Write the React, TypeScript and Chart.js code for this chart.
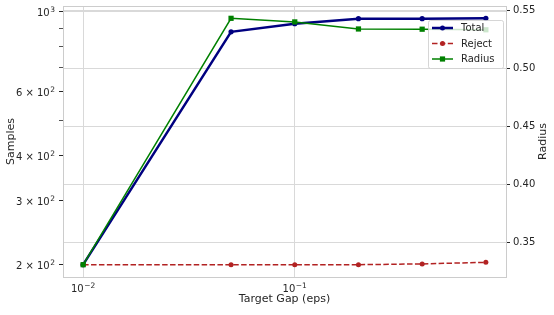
import React, { useEffect, useRef } from 'react';
import { Chart, registerables } from 'chart.js';

Chart.register(...registerables);

// ---- data ----
const gaps = [0.01, 0.05, 0.1, 0.2, 0.4, 0.8];
const totalSamples = [200, 879, 926, 956, 956, 958];
const rejectSamples = [200, 200, 200, 200, 201, 203];
const radiusValues = [0.3308, 0.5434, 0.5403, 0.5342, 0.534, 0.5335];

const xTickValues = [0.01, 0.1];
// [base, superscript]
const xTickLabels: [string, string][] = [['10', '−2'], ['10', '−1']];
const yTickValues = [200, 300, 400, 500, 600, 700, 800, 900, 1000];
const yTickLabels: [string, string][] = [
  ['2 × 10', '2'], ['3 × 10', '2'], ['4 × 10', '2'], ['', ''], ['6 × 10', '2'], ['', ''], ['', ''], ['', ''], ['10', '3'],
];
const rTickValues = [0.35, 0.4, 0.45, 0.5, 0.55];
const rTickLabels = ['0.35', '0.40', '0.45', '0.50', '0.55'];
const seriesNames = ['Total', 'Reject', 'Radius'];

const FONT = '"DejaVu Sans", Verdana, sans-serif';
const TEXT = '#262626';
const GRID = '#d9d9d9';
const SPINE = '#cccccc';
const C_TOTAL = '#000080';
const C_REJECT = '#b22222';
const C_RADIUS = '#008000';

function logLimits(vals: number[]): [number, number] {
  const lo = Math.log10(Math.min(...vals));
  const hi = Math.log10(Math.max(...vals));
  const m = (hi - lo) * 0.05;
  return [Math.pow(10, lo - m), Math.pow(10, hi + m)];
}
function linLimits(vals: number[]): [number, number] {
  const lo = Math.min(...vals);
  const hi = Math.max(...vals);
  const m = (hi - lo) * 0.05;
  return [lo - m, hi + m];
}

function drawSupLabel(ctx: CanvasRenderingContext2D, base: string, sup: string, x: number, baseline: number, align: 'center' | 'right') {
  if (!base) return;
  ctx.font = `10px ${FONT}`;
  const wb = ctx.measureText(base).width;
  ctx.font = `7.5px ${FONT}`;
  const ws = ctx.measureText(sup).width;
  const total = wb + 0.5 + ws;
  const x0 = align === 'center' ? x - total / 2 : x - total;
  ctx.textAlign = 'left';
  ctx.textBaseline = 'alphabetic';
  ctx.fillStyle = TEXT;
  ctx.font = `10px ${FONT}`;
  ctx.fillText(base, x0, baseline);
  ctx.font = `7.5px ${FONT}`;
  ctx.fillText(sup, x0 + wb + 0.5, baseline - 3.6);
}

const decoPlugin = {
  id: 'deco',
  beforeDatasetsDraw(chart: any) {
    const { ctx, chartArea: a } = chart;
    ctx.save();
    ctx.strokeStyle = SPINE;
    ctx.lineWidth = 1;
    ctx.strokeRect(Math.round(a.left) + 0.5, Math.round(a.top) + 0.5, Math.round(a.right - a.left), Math.round(a.bottom - a.top));
    ctx.restore();
  },
  afterDraw(chart: any) {
    const { ctx, chartArea: a } = chart;
    const xs = chart.scales.x;
    const ys = chart.scales.y;
    ctx.save();
    // tick labels with superscripts
    xTickValues.forEach((v, i) => {
      const px = xs.getPixelForValue(v);
      drawSupLabel(ctx, xTickLabels[i][0], xTickLabels[i][1], px, a.bottom + 15, 'center');
    });
    yTickValues.forEach((v, i) => {
      const py = ys.getPixelForValue(v);
      drawSupLabel(ctx, yTickLabels[i][0], yTickLabels[i][1], a.left - 8, py + 4, 'right');
    });

    ctx.fillStyle = TEXT;
    ctx.font = `11px ${FONT}`;
    ctx.textAlign = 'center';
    ctx.textBaseline = 'middle';
    ctx.fillText('Target Gap (eps)', (a.left + a.right) / 2, 299);
    const cy = (a.top + a.bottom) / 2;
    ctx.save();
    ctx.translate(11, cy);
    ctx.rotate(-Math.PI / 2);
    ctx.fillText('Samples', 0, 0);
    ctx.restore();
    ctx.save();
    ctx.translate(543, cy);
    ctx.rotate(-Math.PI / 2);
    ctx.fillText('Radius', 0, 0);
    ctx.restore();

    // legend
    const bx = 428, by = 20, bw = 75, bh = 48;
    ctx.beginPath();
    if ((ctx as any).roundRect) (ctx as any).roundRect(bx + 0.5, by + 0.5, bw, bh, 2);
    else ctx.rect(bx + 0.5, by + 0.5, bw, bh);
    ctx.fillStyle = 'rgba(255,255,255,0.8)';
    ctx.fill();
    ctx.strokeStyle = 'rgba(204,204,204,0.8)';
    ctx.lineWidth = 1;
    ctx.stroke();
    const rows = [28, 43.5, 59];
    const colors = [C_TOTAL, C_REJECT, C_RADIUS];
    const widths = [2.5, 1.5, 1.5];
    rows.forEach((ry, i) => {
      ctx.strokeStyle = colors[i];
      ctx.lineWidth = widths[i];
      ctx.setLineDash(i === 1 ? [5.5, 2.4] : []);
      ctx.beginPath();
      ctx.moveTo(432, ry);
      ctx.lineTo(453, ry);
      ctx.stroke();
      ctx.setLineDash([]);
      ctx.fillStyle = colors[i];
      if (i === 2) {
        ctx.fillRect(442.5 - 2.6, ry - 2.6, 5.2, 5.2);
      } else {
        ctx.beginPath();
        ctx.arc(442.5, ry, 2.5, 0, Math.PI * 2);
        ctx.fill();
      }
      ctx.fillStyle = TEXT;
      ctx.font = `10px ${FONT}`;
      ctx.textAlign = 'left';
      ctx.textBaseline = 'middle';
      ctx.fillText(seriesNames[i], 461, ry + 0.5);
    });
    ctx.restore();
  },
};

export default function App() {
  const ref = useRef<HTMLCanvasElement | null>(null);
  useEffect(() => {
    document.body.style.margin = '0';
    const [xMin, xMax] = logLimits(gaps);
    const [yMin, yMax] = logLimits([...totalSamples, ...rejectSamples]);
    const [rMin, rMax] = linLimits(radiusValues);
    const tickFont = { family: FONT, size: 10 };
    const chart = new Chart(ref.current as HTMLCanvasElement, {
      type: 'line',
      data: {
        datasets: [
          {
            label: seriesNames[0],
            data: gaps.map((x, i) => ({ x, y: totalSamples[i] })),
            yAxisID: 'y',
            borderColor: C_TOTAL,
            backgroundColor: C_TOTAL,
            borderWidth: 2.5,
            pointRadius: 2.6,
            pointBorderWidth: 0,
            pointStyle: 'circle',
            order: 2,
          },
          {
            label: seriesNames[1],
            data: gaps.map((x, i) => ({ x, y: rejectSamples[i] })),
            yAxisID: 'y',
            borderColor: C_REJECT,
            backgroundColor: C_REJECT,
            borderWidth: 1.5,
            borderDash: [5.5, 2.4],
            pointRadius: 2.5,
            pointBorderWidth: 0,
            pointStyle: 'circle',
            order: 1,
          },
          {
            label: seriesNames[2],
            data: gaps.map((x, i) => ({ x, y: radiusValues[i] })),
            yAxisID: 'y1',
            borderColor: C_RADIUS,
            backgroundColor: C_RADIUS,
            borderWidth: 1.5,
            pointRadius: 3.7,
            pointBorderWidth: 0,
            pointStyle: 'rect',
            order: 0,
          },
        ],
      } as any,
      options: {
        responsive: false,
        animation: false,
        devicePixelRatio: 1,
        layout: { padding: { top: 6, left: 0, right: 0, bottom: 0 } },
        plugins: { legend: { display: false }, tooltip: { enabled: false } },
        scales: {
          x: {
            type: 'logarithmic',
            min: xMin,
            max: xMax,
            afterBuildTicks: (s: any) => {
              s.ticks = xTickValues.map((v) => ({ value: v }));
            },
            ticks: {
              callback: () => '',
              font: tickFont,
              color: 'rgba(0,0,0,0)',
              padding: 5,
              maxRotation: 0,
              autoSkip: false,
            },
            grid: { color: GRID, lineWidth: 1, drawTicks: false },
            border: { display: false },
            afterFit: (s: any) => {
              s.height = 38;
              s.paddingLeft = 0;
              s.paddingRight = 0;
            },
          },
          y: {
            type: 'logarithmic',
            position: 'left',
            min: yMin,
            max: yMax,
            afterBuildTicks: (s: any) => {
              s.ticks = yTickValues.map((v) => ({ value: v }));
            },
            ticks: {
              callback: () => '',
              font: tickFont,
              color: 'rgba(0,0,0,0)',
              padding: 2,
              autoSkip: false,
            },
            grid: {
              color: (c: any) => (c.tick && c.tick.value === 1000 ? GRID : 'rgba(0,0,0,0)'),
              tickColor: TEXT,
              tickLength: 4,
              tickWidth: (c: any) => (yTickLabels[c.index] && yTickLabels[c.index][0] ? 1 : 0.8),
              lineWidth: 1,
            },
            border: { display: false },
            afterFit: (s: any) => {
              s.width = 63;
              s.paddingTop = 0;
              s.paddingBottom = 0;
            },
          },
          y1: {
            type: 'linear',
            position: 'right',
            min: rMin,
            max: rMax,
            afterBuildTicks: (s: any) => {
              s.ticks = rTickValues.map((v) => ({ value: v }));
            },
            ticks: {
              callback: (_v: any, i: number) => rTickLabels[i] ?? '',
              font: tickFont,
              color: TEXT,
              padding: 3,
              autoSkip: false,
            },
            grid: { color: GRID, tickColor: TEXT, tickLength: 4, lineWidth: 1 },
            border: { display: false },
            afterFit: (s: any) => {
              s.width = 48;
              s.paddingTop = 0;
              s.paddingBottom = 0;
            },
          },
        },
      } as any,
      plugins: [decoPlugin],
    });
    return () => chart.destroy();
  }, []);
  return (
    <div style={{ position: 'absolute', left: 0, top: 0, width: 554, height: 315 }}>
      <canvas ref={ref} width={554} height={315} style={{ width: 554, height: 315, display: 'block' }} />
    </div>
  );
}
